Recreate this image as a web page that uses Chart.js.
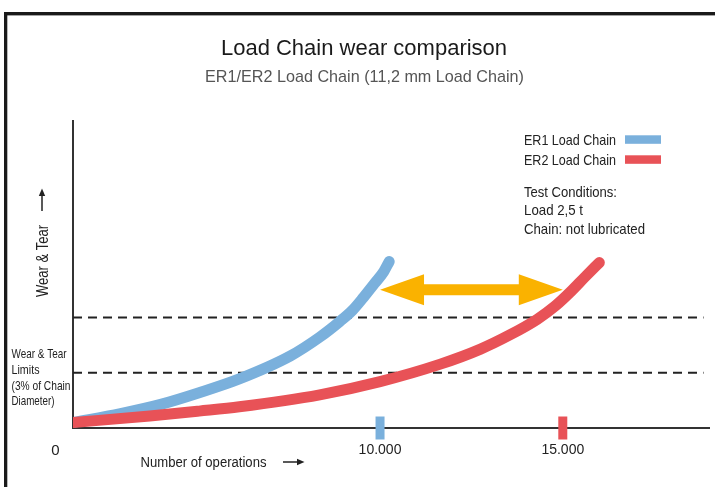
<!DOCTYPE html>
<html lang="en">
<head>
  <meta charset="UTF-8">
  <title>Load Chain wear comparison</title>
  <script src="https://cdn.jsdelivr.net/npm/chart.js"></script>
  <style>
    body {
      margin: 0;
      background-color: #fff;
    }

    canvas {
      display: block;
    }
  </style>
</head>
<body>
  <canvas id="wearChart" width="715" height="487"></canvas>

  <script>
    // x in operations, y in relative wear (0-100)
    const er1Ops  = [1600, 2900, 4000, 5050, 6150, 7550, 8350, 8900, 9250, 9550, 9850, 10100, 10250];
    const er1Wear = [1.8, 4.7, 7.7, 11.5, 16, 23.5, 29.6, 34.7, 38.4, 42.6, 47.1, 50.9, 54.2];

    const er2Ops  = [1600, 3700, 5050, 6150, 8350, 10000, 11650, 12750, 13550, 14300, 14800, 15200, 15600, 16000];
    const er2Wear = [1.8, 3.9, 5.5, 6.9, 10.8, 15.1, 20.8, 25.7, 30.3, 35.4, 39.8, 44.2, 49.1, 53.9];

    const limitOps    = [1600, 18850];
    const limitLevels = [36, 18];

    const tickValues = [10000, 15000];
    const tickLabels = ['10.000', '15.000'];

    const arrowFrom = 10000;
    const arrowTo   = 15000;
    const arrowWear = 45;

    const legendLabels = ['ER1 Load Chain', 'ER2 Load Chain'];
    const testConditions = ['Test Conditions:', 'Load 2,5 t', 'Chain: not lubricated'];
    const limitNote = ['Wear & Tear', 'Limits', '(3% of Chain', 'Diameter)'];

    const BLUE = '#7ab0dc';
    const RED = '#e85257';
    const ORANGE = '#fab200';
    const INK = '#222';
    const FONT = "'Liberation Sans', Arial, sans-serif";

    const toPoints = (xs, ys) => xs.map((x, i) => ({ x: x, y: ys[i] }));

    function txt(ctx, s, x, y, size, color, align, maxW) {
      ctx.font = size + 'px ' + FONT;
      ctx.fillStyle = color;
      ctx.textAlign = align || 'left';
      ctx.textBaseline = 'alphabetic';
      if (maxW) ctx.fillText(s, x, y, maxW);
      else ctx.fillText(s, x, y);
    }

    const decor = {
      id: 'decor',
      beforeDraw(chart) {
        const ctx = chart.ctx;
        ctx.save();
        ctx.fillStyle = '#1a1a1a';
        ctx.fillRect(4, 12, 711, 3.4);
        ctx.fillRect(4, 12, 3.3, 475);
        ctx.restore();
      },
      afterDatasetsDraw(chart) {
        // orange double arrow between the two curves
        const ctx = chart.ctx;
        const xs = chart.scales.x, ys = chart.scales.y;
        const x1 = xs.getPixelForValue(arrowFrom);
        const x2 = xs.getPixelForValue(arrowTo);
        const y = ys.getPixelForValue(arrowWear);
        const head = 44, half = 15.5, shaft = 5.5;
        ctx.save();
        ctx.fillStyle = ORANGE;
        ctx.beginPath();
        ctx.moveTo(x1, y);
        ctx.lineTo(x1 + head, y - half);
        ctx.lineTo(x1 + head, y - shaft);
        ctx.lineTo(x2 - head, y - shaft);
        ctx.lineTo(x2 - head, y - half);
        ctx.lineTo(x2, y);
        ctx.lineTo(x2 - head, y + half);
        ctx.lineTo(x2 - head, y + shaft);
        ctx.lineTo(x1 + head, y + shaft);
        ctx.lineTo(x1 + head, y + half);
        ctx.closePath();
        ctx.fill();
        ctx.restore();
      },
      afterDraw(chart) {
        const ctx = chart.ctx;
        ctx.save();

        txt(ctx, 'Load Chain wear comparison', 364, 55, 22, '#1a1a1a', 'center');
        txt(ctx, 'ER1/ER2 Load Chain (11,2 mm Load Chain)', 364.5, 82, 17, '#555', 'center', 319);

        // legend
        const legendColors = [BLUE, RED];
        legendLabels.forEach((s, i) => {
          txt(ctx, s, 524, 145 + i * 20, 15, INK, 'left', 92);
          ctx.fillStyle = legendColors[i];
          ctx.fillRect(625, 135.3 + i * 20, 36, 8.5);
        });
        const tcWidths = [93, 59, 121];
        testConditions.forEach((s, i) => {
          txt(ctx, s, 524, 196.5 + i * 18.5, 15, INK, 'left', tcWidths[i]);
        });

        // wear & tear limit note
        const noteWidths = [55, 28, 59, 43];
        limitNote.forEach((s, i) => {
          txt(ctx, s, 11.5, 358.3 + i * 15.7, 13, INK, 'left', noteWidths[i]);
        });

        // origin
        txt(ctx, '0', 55.5, 455, 15, INK, 'center');

        // x axis title with arrow
        txt(ctx, 'Number of operations', 140.5, 466.5, 14, INK, 'left', 126);
        ctx.strokeStyle = INK;
        ctx.fillStyle = INK;
        ctx.lineWidth = 1.5;
        ctx.beginPath();
        ctx.moveTo(283, 462);
        ctx.lineTo(298, 462);
        ctx.stroke();
        ctx.beginPath();
        ctx.moveTo(304.5, 462);
        ctx.lineTo(297, 458.8);
        ctx.lineTo(297, 465.2);
        ctx.closePath();
        ctx.fill();

        // y axis title with arrow
        ctx.save();
        ctx.translate(47.5, 297);
        ctx.rotate(-Math.PI / 2);
        txt(ctx, 'Wear & Tear', 0, 0, 16, INK, 'left', 72);
        ctx.restore();
        ctx.strokeStyle = INK;
        ctx.fillStyle = INK;
        ctx.beginPath();
        ctx.moveTo(42, 211);
        ctx.lineTo(42, 195);
        ctx.stroke();
        ctx.beginPath();
        ctx.moveTo(42, 188.5);
        ctx.lineTo(38.8, 196);
        ctx.lineTo(45.2, 196);
        ctx.closePath();
        ctx.fill();

        ctx.restore();
      }
    };

    const limitSets = limitLevels.map(level => ({
      data: toPoints(limitOps, limitOps.map(() => level)),
      borderColor: INK,
      borderWidth: 2,
      borderDash: [9, 6],
      pointRadius: 0,
      order: 3
    }));

    new Chart(document.getElementById('wearChart'), {
      type: 'line',
      data: {
        datasets: [
          {
            label: legendLabels[0],
            data: toPoints(er1Ops, er1Wear),
            borderColor: BLUE,
            borderWidth: 11,
            borderCapStyle: 'round',
            cubicInterpolationMode: 'monotone',
            pointRadius: 0,
            order: 2
          },
          {
            label: legendLabels[1],
            data: toPoints(er2Ops, er2Wear),
            borderColor: RED,
            borderWidth: 11,
            borderCapStyle: 'round',
            cubicInterpolationMode: 'monotone',
            pointRadius: 0,
            order: 1
          },
          ...limitSets,
          {
            // coloured markers on the x axis
            data: tickValues.map(v => ({ x: v, y: 0 })),
            showLine: false,
            pointStyle: 'line',
            rotation: 90,
            pointRadius: 11.5,
            pointBorderWidth: 9,
            pointBorderColor: [BLUE, RED],
            clip: false,
            order: 0
          }
        ]
      },
      options: {
        responsive: false,
        animation: false,
        events: [],
        layout: {
          autoPadding: false,
          padding: { left: 73, right: 6, top: 121, bottom: 0 }
        },
        plugins: {
          legend: { display: false },
          tooltip: { enabled: false }
        },
        scales: {
          x: {
            type: 'linear',
            min: 1600,
            max: 19000,
            afterBuildTicks: scale => {
              scale.ticks = tickValues.map(v => ({ value: v }));
            },
            afterFit: scale => { scale.height = 59; },
            ticks: {
              autoSkip: false,
              maxRotation: 0,
              padding: 13.5,
              color: INK,
              font: { family: FONT, size: 14 },
              callback: value => tickLabels[tickValues.indexOf(value)]
            },
            grid: { display: false, drawTicks: false },
            border: { display: true, color: '#333', width: 2 }
          },
          y: {
            min: 0,
            max: 100,
            afterFit: scale => { scale.width = 0; },
            ticks: { display: false },
            grid: { display: false, drawTicks: false },
            border: { display: true, color: '#333', width: 2 }
          }
        }
      },
      plugins: [decor]
    });
  </script>
</body>
</html>
